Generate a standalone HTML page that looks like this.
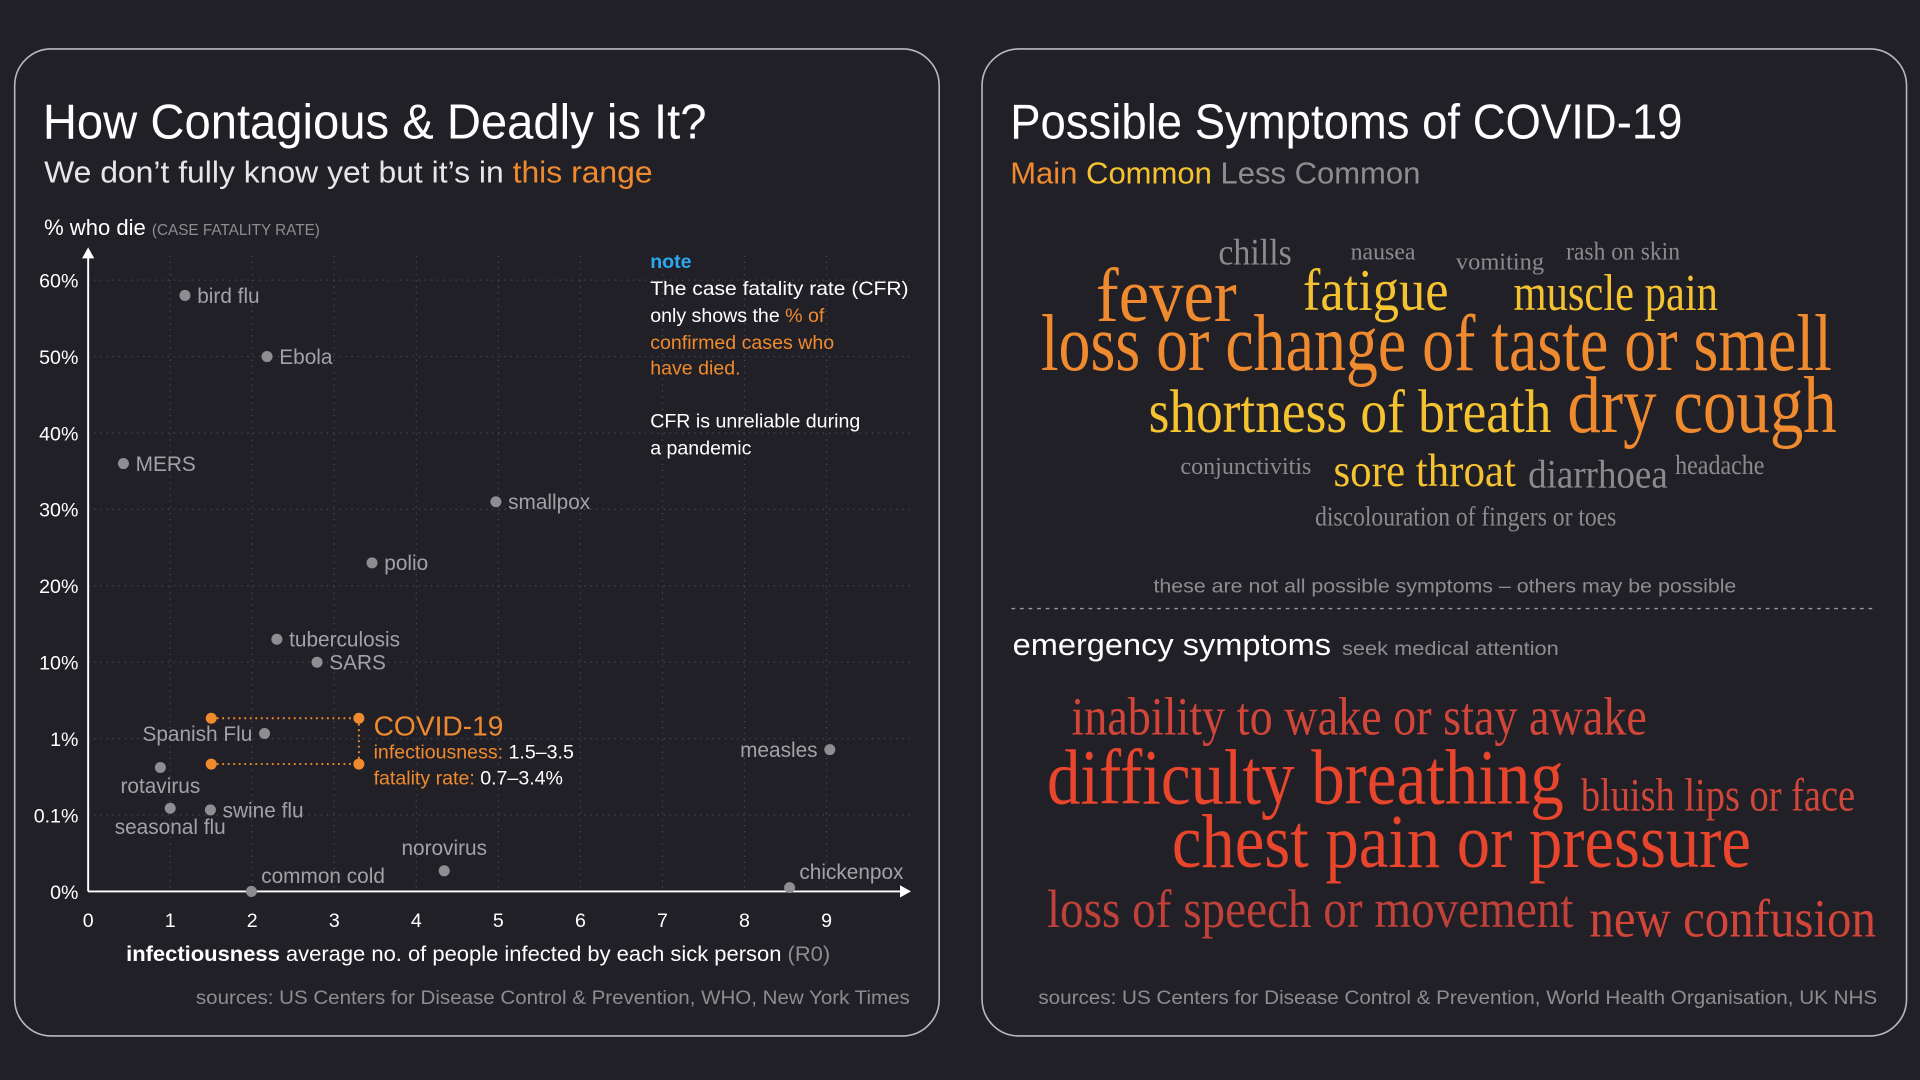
<!DOCTYPE html>
<html><head><meta charset="utf-8">
<style>
html,body{margin:0;padding:0;background:#222027;}
svg{display:block}
.sans{font-family:"Liberation Sans",sans-serif}
.serif{font-family:"Liberation Serif",serif}
</style></head>
<body>
<svg id="root" width="1920" height="1080" viewBox="0 0 1568 882" xmlns="http://www.w3.org/2000/svg">
<rect width="1568" height="882" fill="#222027"/>
<rect x="12" y="40" width="755" height="806" rx="30" fill="#222027" stroke="#b9b9bd" stroke-width="1.3"/>
<rect x="802" y="40" width="755" height="806" rx="30" fill="#222027" stroke="#b9b9bd" stroke-width="1.3"/>

<!-- left header -->
<text class="sans" x="35" y="113" font-size="40" fill="#ffffff" textLength="542" lengthAdjust="spacingAndGlyphs">How Contagious &amp; Deadly is It?</text>
<text class="sans" x="36" y="149" font-size="25" fill="#e6e6e6" textLength="497" lengthAdjust="spacingAndGlyphs">We don’t fully know yet but it’s in <tspan fill="#f08a2e">this range</tspan></text>
<text class="sans" x="36" y="192" font-size="18" fill="#ffffff">% who die <tspan font-size="12.5" fill="#8d8d90">(CASE FATALITY RATE)</tspan></text>

<g id="chart"></g>

<text class="sans" x="103" y="785" font-size="17" fill="#ffffff" textLength="575" lengthAdjust="spacingAndGlyphs"><tspan font-weight="bold">infectiousness</tspan> average no. of people infected by each sick person <tspan fill="#8d8d90">(R0)</tspan></text>
<text class="sans" x="743" y="820" font-size="16" fill="#8d8d90" text-anchor="end" textLength="583" lengthAdjust="spacingAndGlyphs">sources: US Centers for Disease Control &amp; Prevention, WHO, New York Times</text>

<g class="sans" font-size="16" fill="#ffffff">
<text x="531" y="219" fill="#2aa8f0" font-weight="bold">note</text>
<text x="531" y="241" textLength="211" lengthAdjust="spacingAndGlyphs">The case fatality rate (CFR)</text>
<text x="531" y="263">only shows the <tspan fill="#f08a2e">% of</tspan></text>
<text x="531" y="285" fill="#f08a2e">confirmed cases who</text>
<text x="531" y="306" fill="#f08a2e">have died.</text>
<text x="531" y="349">CFR is unreliable during</text>
<text x="531" y="371">a pandemic</text>
</g>

<!-- right header -->
<text class="sans" x="825" y="113" font-size="40" fill="#ffffff" textLength="549" lengthAdjust="spacingAndGlyphs">Possible Symptoms of COVID-19</text>
<text class="sans" x="825" y="150" font-size="25" textLength="335" lengthAdjust="spacingAndGlyphs"><tspan fill="#f08a2e">Main</tspan> <tspan fill="#f5c330">Common</tspan> <tspan fill="#8d8d90">Less Common</tspan></text>

<g class="serif">
<text x="995" y="216" font-size="30" fill="#8b8b8e" textLength="60" lengthAdjust="spacingAndGlyphs">chills</text>
<text x="1103" y="212" font-size="20" fill="#8b8b8e" textLength="53" lengthAdjust="spacingAndGlyphs">nausea</text>
<text x="1189" y="220" font-size="20" fill="#8b8b8e" textLength="72" lengthAdjust="spacingAndGlyphs">vomiting</text>
<text x="1279" y="212" font-size="21" fill="#8b8b8e" textLength="93" lengthAdjust="spacingAndGlyphs">rash on skin</text>
<text x="895" y="262" font-size="62" fill="#f08a2e" textLength="115" lengthAdjust="spacingAndGlyphs">fever</text>
<text x="1064" y="253" font-size="48" fill="#f5c330" textLength="119" lengthAdjust="spacingAndGlyphs">fatigue</text>
<text x="1236" y="253" font-size="42" fill="#f5c330" textLength="167" lengthAdjust="spacingAndGlyphs">muscle pain</text>
<text x="850" y="302" font-size="66" fill="#f08a2e" textLength="646" lengthAdjust="spacingAndGlyphs">loss or change of taste or smell</text>
<text x="938" y="353" font-size="50" fill="#f5c330" textLength="329" lengthAdjust="spacingAndGlyphs">shortness of breath</text>
<text x="1280" y="353" font-size="66" fill="#f08a2e" textLength="220" lengthAdjust="spacingAndGlyphs">dry cough</text>
<text x="964" y="387" font-size="20" fill="#8b8b8e" textLength="107" lengthAdjust="spacingAndGlyphs">conjunctivitis</text>
<text x="1089" y="397" font-size="38" fill="#f5c330" textLength="149" lengthAdjust="spacingAndGlyphs">sore throat</text>
<text x="1248" y="398" font-size="33" fill="#8b8b8e" textLength="114" lengthAdjust="spacingAndGlyphs">diarrhoea</text>
<text x="1368" y="387" font-size="22" fill="#8b8b8e" textLength="73" lengthAdjust="spacingAndGlyphs">headache</text>
<text x="1074" y="429" font-size="22" fill="#8b8b8e" textLength="246" lengthAdjust="spacingAndGlyphs">discolouration of fingers or toes</text>
</g>

<text class="sans" x="1180" y="484" font-size="16" fill="#8d8d90" text-anchor="middle" textLength="476" lengthAdjust="spacingAndGlyphs">these are not all possible symptoms – others may be possible</text>
<line x1="826" y1="497" x2="1533" y2="497" stroke="#9a9a9e" stroke-width="1.2" stroke-dasharray="3,4"/>
<text class="sans" x="827" y="535" font-size="25" fill="#ffffff" textLength="260" lengthAdjust="spacingAndGlyphs">emergency symptoms</text>
<text class="sans" x="1096" y="535" font-size="16" fill="#8d8d90" textLength="177" lengthAdjust="spacingAndGlyphs">seek medical attention</text>

<g class="serif">
<text x="875" y="600" font-size="44" fill="#d2463a" textLength="470" lengthAdjust="spacingAndGlyphs">inability to wake or stay awake</text>
<text x="855" y="656" font-size="64" fill="#e8452c" textLength="422" lengthAdjust="spacingAndGlyphs">difficulty breathing</text>
<text x="1291" y="662" font-size="38" fill="#d2463a" textLength="224" lengthAdjust="spacingAndGlyphs">bluish lips or face</text>
<text x="957" y="708" font-size="62" fill="#e8452c" textLength="473" lengthAdjust="spacingAndGlyphs">chest pain or pressure</text>
<text x="855" y="757" font-size="44" fill="#c0413a" textLength="430" lengthAdjust="spacingAndGlyphs">loss of speech or movement</text>
<text x="1298" y="765" font-size="44" fill="#d2463a" textLength="234" lengthAdjust="spacingAndGlyphs">new confusion</text>
</g>
<text class="sans" x="1533" y="820" font-size="16" fill="#8d8d90" text-anchor="end" textLength="685" lengthAdjust="spacingAndGlyphs">sources: US Centers for Disease Control &amp; Prevention, World Health Organisation, UK NHS</text>
</svg>

<script>
const diseases = ["bird flu","Ebola","MERS","smallpox","polio","tuberculosis","SARS","Spanish Flu","rotavirus","seasonal flu","swine flu","norovirus","common cold","chickenpox","measles"];
const r0Values = [1.18,2.18,0.43,4.97,3.46,2.3,2.79,2.15,0.88,1.0,1.49,4.34,1.99,8.55,9.04];
const cfrValues = [58,50,36,31,23,13,10,1.6,0.66,0.18,0.16,0.027,0,0.005,0.87];
const labelSide = ["r","r","r","r","r","r","r","l","b","b","r","t","tr","tr","l"];
const yTickValues = [0,0.1,1,10,20,30,40,50,60];
const yTickLabels = ["0%","0.1%","1%","10%","20%","30%","40%","50%","60%"];
const xTickValues = [0,1,2,3,4,5,6,7,8,9];
const covidR0 = [1.5,3.3];
const covidCfr = [0.7,3.4];

const NS="http://www.w3.org/2000/svg";
const g=document.getElementById('chart');
const X0=72, XU=67, Y0=728, YU=62.4;
function xs(v){return X0+v*XU;}
function ys(v){
  let i=0;
  while(i<yTickValues.length-2 && v>yTickValues[i+1]) i++;
  const a=yTickValues[i], b=yTickValues[i+1];
  const f=(v-a)/(b-a);
  return Y0-(i+f)*YU;
}
function mk(tag,attrs){const e=document.createElementNS(NS,tag);for(const k in attrs)e.setAttribute(k,attrs[k]);g.appendChild(e);return e;}

// grid
xTickValues.forEach(v=>{
  if(v===0)return;
  const l=mk('line',{x1:xs(v),x2:xs(v),y1:ys(60)-20,y2:Y0,stroke:'#4a4850','stroke-width':1,'stroke-dasharray':'1,4'});
  
  
});
yTickValues.forEach((v,i)=>{
  if(i>0){
    const l=mk('line',{x1:X0,x2:745,y1:ys(v),y2:ys(v),stroke:'#4a4850','stroke-width':1,'stroke-dasharray':'1,4'});
    
    
  }
  const t=mk('text',{x:64,y:ys(v)+6,'text-anchor':'end','font-size':16,fill:'#ffffff','font-family':'Liberation Sans, sans-serif'});
  t.textContent=yTickLabels[i];
  
  
});
xTickValues.forEach(v=>{
  const t=mk('text',{x:xs(v),y:757,'text-anchor':'middle','font-size':16,fill:'#ffffff','font-family':'Liberation Sans, sans-serif'});
  t.textContent=String(v);
  
  
});
// axes
let ax=mk('line',{x1:X0,x2:738,y1:Y0,y2:Y0,stroke:'#ffffff','stroke-width':1.6});


let ah=mk('polygon',{points:`744,${Y0} 735,${Y0-5} 735,${Y0+5}`,fill:'#ffffff'});


let ay=mk('line',{x1:X0,x2:X0,y1:Y0,y2:208,stroke:'#ffffff','stroke-width':1.6});


let ayh=mk('polygon',{points:`${X0},202 ${X0-5},211 ${X0+5},211`,fill:'#ffffff'});



// points
diseases.forEach((name,i)=>{
  const cx=xs(r0Values[i]), cy=ys(cfrValues[i]);
  const c=mk('circle',{cx:cx,cy:cy,r:4.5,fill:'#8e8e92'});
  
  
  let tx=cx+10, ty=cy+6, anchor='start';
  const s=labelSide[i];
  if(s==='l'){tx=cx-10;anchor='end';}
  else if(s==='b'){tx=cx;ty=cy+21;anchor='middle';}
  else if(s==='t'){tx=cx;ty=cy-13;anchor='middle';}
  else if(s==='tr'){tx=cx+8;ty=cy-7;}
  const t=mk('text',{x:tx,y:ty,'text-anchor':anchor,'font-size':17,fill:'#a2a2a6','font-family':'Liberation Sans, sans-serif'});
  t.textContent=name;
  
  
});

// covid range
const cx1=xs(covidR0[0]), cx2=xs(covidR0[1]), cyHi=ys(covidCfr[1]), cyLo=ys(covidCfr[0]);
[[cx1,cyHi,cx2,cyHi],[cx1,cyLo,cx2,cyLo],[cx2,cyHi,cx2,cyLo]].forEach(p=>{
  const l=mk('line',{x1:p[0],y1:p[1],x2:p[2],y2:p[3],stroke:'#f08a2e','stroke-width':1.6,'stroke-dasharray':'1.5,3'});
  
  
});
[[cx1,cyHi],[cx2,cyHi],[cx1,cyLo],[cx2,cyLo]].forEach(p=>{
  const c=mk('circle',{cx:p[0],cy:p[1],r:4.5,fill:'#f08a2e'});
  
  
});
const ct=mk('text',{x:cx2+12,y:cyHi+14,'font-size':23,fill:'#f08a2e','font-family':'Liberation Sans, sans-serif'});
ct.textContent='COVID-19';


const c1=mk('text',{x:cx2+12,y:cyHi+33,'font-size':16,fill:'#f08a2e','font-family':'Liberation Sans, sans-serif'});
c1.innerHTML='infectiousness: <tspan fill="#ffffff">'+covidR0[0]+'–3.5</tspan>';


const c2=mk('text',{x:cx2+12,y:cyHi+54,'font-size':16,fill:'#f08a2e','font-family':'Liberation Sans, sans-serif'});
c2.innerHTML='fatality rate: <tspan fill="#ffffff">'+covidCfr[0]+'–'+covidCfr[1]+'%</tspan>';


</script>
</body></html>
